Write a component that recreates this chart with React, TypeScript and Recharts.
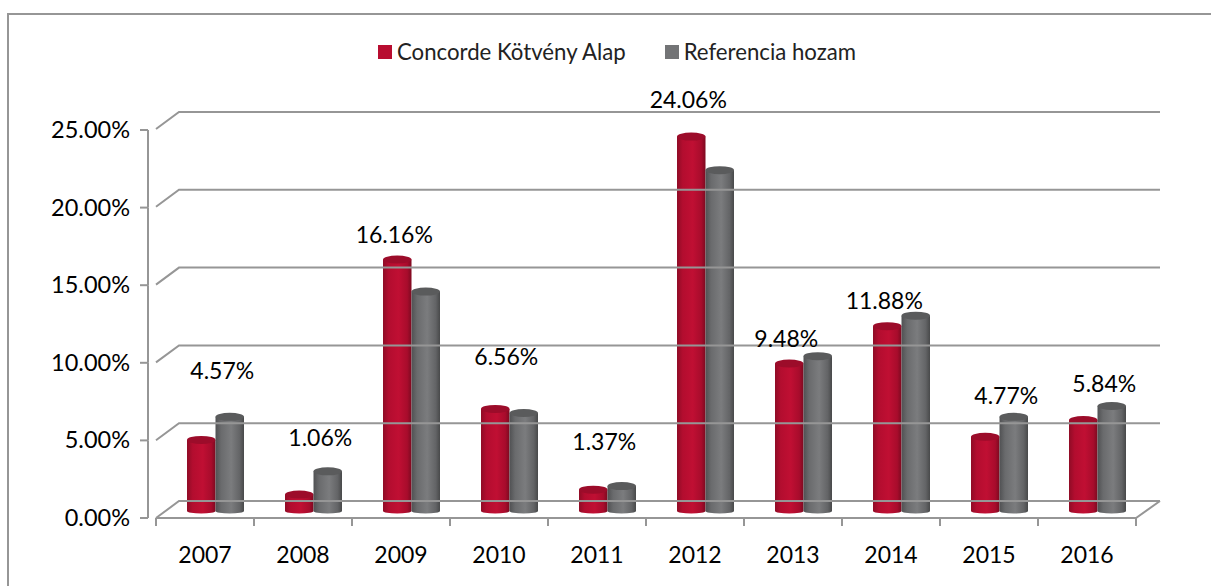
import React from 'react';
import { BarChart, Bar, XAxis, YAxis, Legend, LabelList, ReferenceLine } from 'recharts';

const years = ['2007', '2008', '2009', '2010', '2011', '2012', '2013', '2014', '2015', '2016'];
const fundReturns = [4.57, 1.06, 16.16, 6.56, 1.37, 24.06, 9.48, 11.88, 4.77, 5.84];
const benchmarkReturns = [6.05, 2.55, 14.1, 6.3, 1.6, 21.9, 9.95, 12.55, 6.05, 6.75];
const frontTicks = [0, 5, 10, 15, 20, 25];

// the labels were dragged by hand in the original, so each one has its own nudge
const labelNudgeX = [20, 20, -4, 10, 10, -4, -4, -4, 20, 20];
const labelNudgeY = [-69, -57, -25, -52, -48, -37, -24, -25, -41, -36];

const data = years.map((year, i) => ({ year, fund: fundReturns[i], benchmark: benchmarkReturns[i] }));

const FONT = 'Lato, sans-serif';
const LINE = '#969696';
const DEPTH_X = 23;
const DEPTH_Y = 17;
const FRONT_STEP = 77.6;
const BAND = 98;

const Cylinder = (props: any) => {
  const { x, y, width, height, side, top } = props;
  return (
    <g>
      <path
        d={`M${x},${y} L${x},${y + height} A${width / 2},2.5 0 0 0 ${x + width},${y + height} L${x + width},${y} Z`}
        fill={`url(#${side})`}
      />
      <ellipse cx={x + width / 2} cy={y} rx={width / 2} ry={4} fill={top} />
    </g>
  );
};

const BackLine = (props: any) => {
  const { x1, y1, x2, y2 } = props;
  if (x1 === undefined) return null;
  return <path d={`M${x1},${y1 + DEPTH_Y} L${x1 + DEPTH_X},${y1} L${x2},${y2}`} fill="none" stroke={LINE} strokeWidth={2} />;
};

const FloorEdge = (props: any) => {
  const { x1, y1, x2, y2 } = props;
  if (x1 === undefined) return null;
  return <path d={`M${x1},${y1} L${x2 - DEPTH_X - 1},${y2} L${x2},${y2 - DEPTH_Y}`} fill="none" stroke={LINE} strokeWidth={2} />;
};

const YearTick = (props: any) => {
  const { x, y, payload, index } = props;
  const left = x - BAND / 2;
  return (
    <g>
      <line x1={left} y1={y - 8} x2={left} y2={y} stroke={LINE} strokeWidth={2} />
      {index === years.length - 1 && <line x1={left + BAND} y1={y - 8} x2={left + BAND} y2={y} stroke={LINE} strokeWidth={2} />}
      <text x={x} y={y + 37} textAnchor="middle" fontFamily={FONT} fontSize={23} fill="#000">{payload.value}</text>
    </g>
  );
};

const PercentTick = (props: any) => {
  const { x, y, payload } = props;
  return (
    <g>
      <line x1={x - 8} y1={y} x2={x} y2={y} stroke={LINE} strokeWidth={2} />
      {payload.value < 25 && <line x1={x} y1={y} x2={x} y2={y - FRONT_STEP} stroke={LINE} strokeWidth={2} />}
      <text x={x - 18} y={y + 8} textAnchor="end" fontFamily={FONT} fontSize={23.5} fill="#000">{payload.value.toFixed(2)}%</text>
    </g>
  );
};

const ReturnLabel = (props: any) => {
  const { x, y, width, index, value } = props;
  return (
    <text
      x={x + width / 2 + labelNudgeX[index] + 1}
      y={y + labelNudgeY[index] + 8}
      textAnchor="middle"
      fontFamily={FONT}
      fontSize={23}
      fill="#000"
    >
      {value.toFixed(2)}%
    </text>
  );
};

const LegendRow = ({ payload }: any) => (
  <div style={{ display: 'flex', fontFamily: FONT, fontSize: 22.2, color: '#222', lineHeight: '26px' }}>
    {payload.map((item: any, i: number) => (
      <div key={item.value} style={{ display: 'flex', alignItems: 'center', marginRight: i === 0 ? 39 : 0 }}>
        <span style={{ width: 14, height: 14, background: item.dataKey === 'fund' ? '#b80d30' : '#737476', marginRight: 5 }} />
        {item.value}
      </div>
    ))}
  </div>
);

export default function App() {
  return (
    <div
      style={{
        position: 'absolute',
        left: 7,
        top: 13,
        width: 1204,
        height: 573,
        borderTop: `2px solid ${LINE}`,
        borderLeft: `2px solid ${LINE}`,
        boxSizing: 'border-box',
        background: '#fff',
      }}
    >
      <BarChart
        width={1195}
        height={571}
        data={data}
        margin={{ top: 71, right: 44, bottom: 0, left: 0 }}
        barSize={28.5}
        barGap={0}
        style={{ position: 'absolute', left: 0, top: 0 }}
      >
        <defs>
          <linearGradient id="redSide" x1="0" x2="1" y1="0" y2="0">
            <stop offset="0" stopColor="#8f0c26" />
            <stop offset="0.2" stopColor="#b30d2f" />
            <stop offset="0.55" stopColor="#c00f33" />
            <stop offset="0.85" stopColor="#a80c2c" />
            <stop offset="1" stopColor="#7d0a20" />
          </linearGradient>
          <linearGradient id="greySide" x1="0" x2="1" y1="0" y2="0">
            <stop offset="0" stopColor="#505153" />
            <stop offset="0.2" stopColor="#6a6b6d" />
            <stop offset="0.55" stopColor="#7b7c7e" />
            <stop offset="0.85" stopColor="#636466" />
            <stop offset="1" stopColor="#48494a" />
          </linearGradient>
        </defs>
        <XAxis xAxisId="front" dataKey="year" padding={{ left: 0, right: 24 }} axisLine={false} tickLine={false} tick={<YearTick />} interval={0} height={68} />
        <XAxis xAxisId="bars" dataKey="year" padding={{ left: 10, right: 14 }} height={0} hide />
        <YAxis yAxisId="front" domain={[0, 26.16]} allowDataOverflow ticks={frontTicks} axisLine={false} tickLine={false} tick={<PercentTick />} width={147} />
        <YAxis yAxisId="back" domain={[-1.09, 25]} allowDataOverflow width={0} hide />
        <YAxis yAxisId="bars" domain={[-0.45, 25.64]} allowDataOverflow width={0} hide />
        {frontTicks.map(t => (
          <ReferenceLine key={t} xAxisId="front" yAxisId="back" y={t} shape={<BackLine />} ifOverflow="visible" />
        ))}
        <ReferenceLine xAxisId="front" yAxisId="front" y={0} shape={<FloorEdge />} ifOverflow="visible" />
        <Legend
          verticalAlign="top"
          align="left"
          wrapperStyle={{ left: 369, top: 24, width: 'auto' }}
          content={<LegendRow />}
        />
        <Bar
          xAxisId="bars"
          yAxisId="bars"
          dataKey="fund"
          name="Concorde Kötvény Alap"
          fill="#b80d30"
          isAnimationActive={false}
          shape={<Cylinder side="redSide" top="#9c0c2a" />}
        >
          <LabelList dataKey="fund" content={<ReturnLabel />} />
        </Bar>
        <Bar
          xAxisId="bars"
          yAxisId="bars"
          dataKey="benchmark"
          name="Referencia hozam"
          fill="#737476"
          isAnimationActive={false}
          shape={<Cylinder side="greySide" top="#5a5b5c" />}
        />
      </BarChart>
    </div>
  );
}
